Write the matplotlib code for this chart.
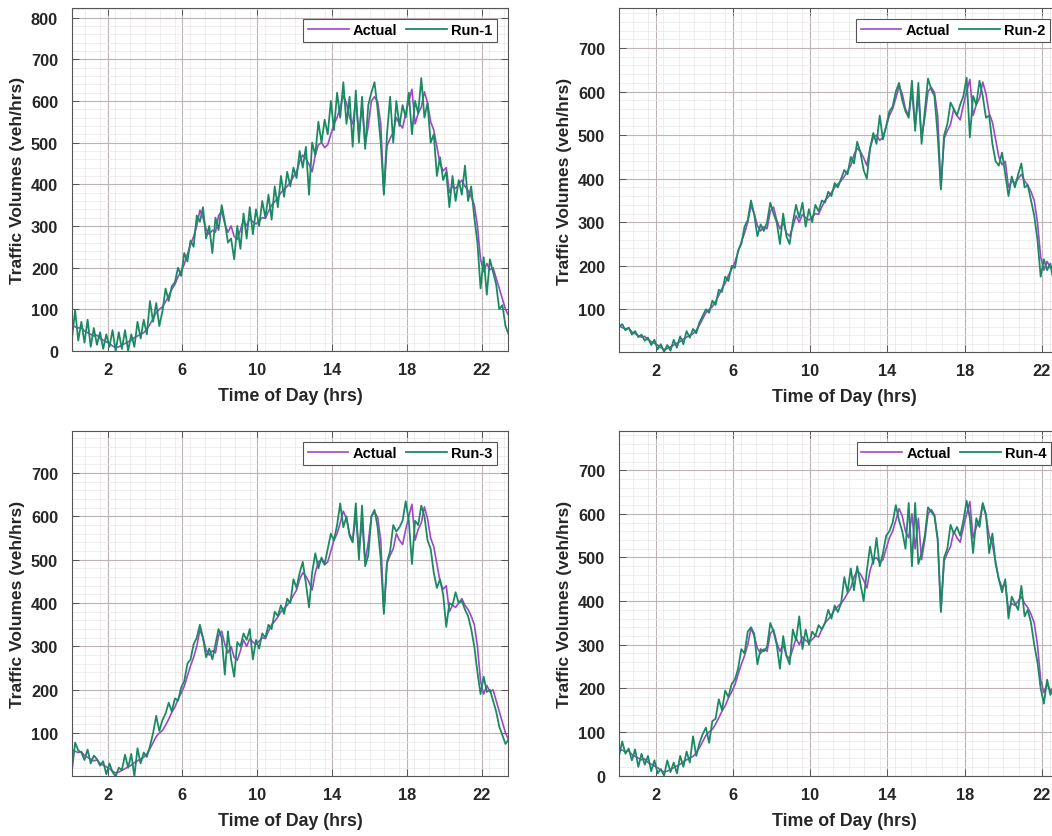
import numpy as np
import matplotlib
matplotlib.use("Agg")
import matplotlib.pyplot as plt
from matplotlib.ticker import MultipleLocator

plt.rcParams['font.family'] = ['Liberation Sans', 'DejaVu Sans']

# time of day (hrs), 10-minute samples
time_hrs = np.arange(141) / 6.0 + 0.1

actual = [62, 58, 55, 57, 48, 44, 40, 36, 38, 30,
          26, 22, 18, 12, 8, 10, 14, 18, 22, 26,
          32, 36, 40, 44, 52, 64, 78, 92, 100, 106,
          118, 132, 148, 160, 178, 192, 208, 232, 255, 275,
          300, 338, 320, 292, 280, 290, 285, 325, 335, 305,
          285, 300, 275, 268, 290, 315, 300, 318, 310, 305,
          312, 320, 318, 335, 350, 358, 368, 380, 388, 395,
          405, 418, 430, 455, 470, 462, 448, 430, 470, 495,
          500, 488, 495, 520, 545, 560, 585, 612, 595, 560,
          545, 600, 520, 590, 495, 540, 600, 610, 598, 545,
          378, 492, 510, 525, 560, 545, 535, 570, 600, 628,
          545, 570, 585, 622, 595, 550, 530, 490, 450, 432,
          440, 380, 395, 390, 400, 410, 395, 385, 370, 350,
          300, 220, 190, 210, 195, 200, 175, 150, 125, 100,
          85]

run1 = [30, 98, 25, 70, 20, 75, 10, 55, 15, 45,
        5, 40, 10, 50, 0, 45, 5, 50, 0, 40,
        10, 70, 30, 75, 40, 120, 70, 115, 60, 95,
        150, 120, 155, 165, 200, 180, 235, 215, 265, 250,
        325, 310, 345, 270, 300, 235, 320, 290, 350, 310,
        260, 270, 220, 300, 245, 330, 270, 345, 280, 340,
        300, 360, 320, 375, 315, 395, 345, 420, 370, 430,
        395, 440, 415, 480, 440, 490, 375, 500, 470, 550,
        500, 555, 520, 600, 530, 620, 560, 645, 545, 610,
        490, 625, 500, 610, 485, 590, 620, 645, 580, 500,
        375, 520, 610, 500, 600, 540, 590, 560, 620, 520,
        600, 570, 655, 560, 595, 500, 520, 420, 465, 410,
        430, 345, 420, 360, 410, 375, 445, 360, 395, 320,
        260, 150, 225, 135, 220, 190, 160, 100, 110, 60,
        40]

run2 = [60, 66, 52, 58, 42, 50, 36, 42, 28, 35,
        18, 30, 8, 20, 2, 18, 5, 30, 12, 38,
        20, 50, 35, 55, 45, 70, 85, 100, 92, 120,
        110, 145, 140, 175, 165, 200, 195, 235, 250, 290,
        305, 350, 318, 268, 295, 280, 300, 345, 320, 300,
        250, 320, 268, 250, 300, 340, 310, 345, 290, 330,
        300, 340, 325, 350, 345, 370, 360, 390, 380, 400,
        420, 410, 450, 435, 485, 460, 420, 400, 470, 505,
        480, 545, 490, 520, 555, 565, 600, 620, 580, 555,
        540, 625, 510, 620, 480, 555, 630, 605, 590, 500,
        375, 500, 525, 575, 560, 545, 570, 590, 632, 495,
        590, 570, 625, 590, 540, 545, 480, 440, 430, 460,
        410, 360, 405, 380, 410, 435, 380, 385, 350, 315,
        260, 175, 215, 190, 205, 165, 180, 145, 120, 100,
        90]

run3 = [15, 78, 60, 55, 38, 62, 30, 48, 40, 25,
        35, 5, 30, 10, 0, 20, 15, 50, 20, 52,
        0, 65, 30, 55, 45, 70, 100, 140, 105, 130,
        145, 170, 150, 180, 175, 205, 220, 260, 270, 305,
        320, 350, 320, 275, 295, 270, 305, 340, 320, 235,
        335, 270, 230, 310, 300, 330, 315, 340, 270, 315,
        295, 330, 320, 350, 340, 380, 370, 395, 375, 410,
        400, 455, 435, 470, 495, 445, 390, 470, 515, 480,
        505, 490, 525, 560, 545, 580, 630, 575, 600, 555,
        540, 630, 500, 625, 485, 510, 600, 615, 575, 500,
        375, 495, 520, 580, 565, 575, 590, 635, 590, 490,
        590, 580, 625, 600, 545, 525, 470, 435, 455, 420,
        345, 400, 395, 425, 400, 405, 385, 370, 340, 300,
        240, 190, 230, 195, 200, 175, 150, 115, 95, 75,
        85]

run4 = [45, 78, 50, 62, 35, 60, 20, 50, 25, 45,
        10, 35, 5, 15, 0, 35, 8, 30, 5, 45,
        20, 55, 30, 90, 45, 75, 95, 110, 75, 125,
        130, 175, 150, 195, 180, 210, 220, 245, 290, 280,
        330, 340, 325, 255, 290, 285, 295, 350, 330, 300,
        245, 320, 275, 255, 335, 310, 365, 290, 335, 300,
        330, 320, 345, 335, 350, 380, 360, 390, 375, 395,
        455, 420, 475, 425, 480, 440, 400, 470, 525, 485,
        545, 480, 510, 550, 560, 580, 620, 585, 560, 520,
        625, 480, 625, 485, 510, 550, 615, 605, 595, 540,
        375, 500, 520, 575, 555, 570, 550, 585, 630, 590,
        510, 590, 570, 625, 600, 510, 555, 485, 450, 420,
        450, 360, 410, 395, 380, 435, 365, 380, 350, 300,
        260, 200, 165, 220, 185, 205, 160, 140, 120, 95,
        80]

run_labels = ["Run-1", "Run-2", "Run-3", "Run-4"]
runs = [run1, run2, run3, run4]
xticks = [2, 6, 10, 14, 18, 22]

W, H = 1052, 837
fig = plt.figure(figsize=(W / 100, H / 100), dpi=100)
fig.patch.set_facecolor('white')

def px_axes(left, top, right, bottom):
    return fig.add_axes([left / W, 1 - bottom / H, (right - left) / W, (bottom - top) / H])

# (left, top, right, bottom) in pixels, ylim, legend anchor (right, top) in px
panels = [
    ((72, 9, 508, 352), (0, 823), (497, 20)),
    ((619, 9, 1069, 353), (2, 792), (1050, 20)),
    ((72, 432, 508, 777), (1, 797), (497, 443)),
    ((619, 432, 1069, 777), (-1, 790), (1051, 443)),
]

c_actual = '#9d48c8'
c_run = '#1a8a62'
txt = '#262626'

for (box, ylim, leg), run, lab in zip(panels, runs, run_labels):
    ax = px_axes(*box)
    ax.plot(time_hrs, actual, color=c_actual, lw=1.2, label='Actual')
    ax.plot(time_hrs, run, color=c_run, lw=1.3, label=lab)
    ax.set_xlim(0.1, 23.4)
    ax.set_ylim(*ylim)
    ax.set_xticks(xticks)
    ax.yaxis.set_major_locator(MultipleLocator(100))
    ax.xaxis.set_minor_locator(MultipleLocator(0.8))
    ax.yaxis.set_minor_locator(MultipleLocator(20))
    ax.grid(True, which='major', color='#bdb5b5', lw=0.8)
    ax.grid(True, which='minor', color='#e9e6e6', lw=0.5)
    ax.set_axisbelow(True)
    ax.tick_params(which='major', direction='in', length=5, width=0.7, color='#555555',
                   top=True, right=True, labelsize=11.8, labelcolor=txt)
    ax.tick_params(axis='x', which='major', pad=8)
    ax.tick_params(axis='y', which='major', pad=10)
    ax.tick_params(which='minor', length=0)
    for lbl in ax.get_xticklabels() + ax.get_yticklabels():
        lbl.set_fontweight('bold')
    for s in ax.spines.values():
        s.set_color('#555555')
        s.set_linewidth(0.8)
    ax.set_xlabel('Time of Day (hrs)', fontsize=12.8, fontweight='bold', color=txt, labelpad=7)
    ax.set_ylabel('Traffic Volumes (veh/hrs)', fontsize=12.5, fontweight='bold', color=txt, labelpad=4)
    lg = ax.legend(loc='upper right', bbox_to_anchor=(leg[0] / W, 1 - leg[1] / H),
                   bbox_transform=fig.transFigure, ncol=2, frameon=True, fancybox=False,
                   framealpha=1, edgecolor='#555555', handlelength=2.8, handletextpad=0.3,
                   columnspacing=0.6, borderpad=0.3, borderaxespad=0,
                   prop={'weight': 'bold', 'size': 10.5})
    lg.get_frame().set_linewidth(0.8)

fig.savefig('out.png', dpi=100)
